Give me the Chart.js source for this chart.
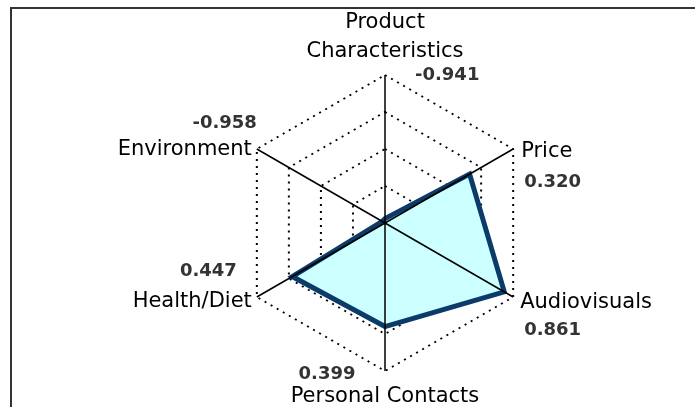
<!DOCTYPE html>
<html>
<head>
<meta charset="utf-8">
<script src="https://cdn.jsdelivr.net/npm/chart.js@4"></script>
<style>
  body { margin: 0; background: #fff; }
  #wrap { width: 695px; height: 407px; position: relative; }
</style>
</head>
<body>
<div id="wrap"><canvas id="graficoRadar"></canvas></div>
<script>
const categorias = [['Product', 'Characteristics'], 'Price', 'Audiovisuals', 'Personal Contacts', 'Health/Diet', 'Environment'];
const valores = [-0.941, 0.320, 0.861, 0.399, 0.447, -0.958];
const escalaMin = -1;
const escalaMax = 1;
const passo = 0.5;

// where each name / value goes relative to its spoke end: [dx, dy, align]
const posNome = [
    [0, -18, 'center'],
    [8, 8, 'left'],
    [7, 11, 'left'],
    [0, 31, 'center'],
    [-5, 10, 'right'],
    [-5, 6, 'right']
];
const posValor = [
    [30, 5, 'left'],
    [11, 38, 'left'],
    [11, 38, 'left'],
    [-58, 8, 'center'],
    [-20, -21, 'right'],
    [0, -21, 'right']
];

const rotulos = {
    id: 'rotulos',
    beforeDraw(chart) {
        const c = chart.ctx;
        c.save();
        c.strokeStyle = '#333';
        c.lineWidth = 2;
        c.beginPath();
        c.moveTo(11, 407);
        c.lineTo(11, 8);
        c.lineTo(695, 8);
        c.stroke();
        c.restore();
    },
    afterDatasetsDraw(chart) {
        // spokes sit on top of the filled area, like in the original
        const c = chart.ctx;
        const r = chart.scales.r;
        c.save();
        c.strokeStyle = '#000';
        c.lineWidth = 1.5;
        c.beginPath();
        categorias.forEach(function (n, i) {
            const p = r.getPointPosition(i, r.drawingArea);
            c.moveTo(r.xCenter, r.yCenter);
            c.lineTo(p.x, p.y);
        });
        c.stroke();
        c.restore();
    },
    afterDraw(chart) {
        const c = chart.ctx;
        const r = chart.scales.r;
        c.save();
        c.textBaseline = 'alphabetic';
        categorias.forEach(function (nome, i) {
            const p = r.getPointPosition(i, r.drawingArea);
            const linhas = Array.isArray(nome) ? nome : [nome];
            c.font = '21px "DejaVu Sans"';
            c.fillStyle = '#000';
            c.textAlign = posNome[i][2];
            linhas.forEach(function (l, k) {
                c.fillText(l, p.x + posNome[i][0], p.y + posNome[i][1] - (linhas.length - 1 - k) * 29);
            });
            c.font = 'bold 18px "DejaVu Sans"';
            c.fillStyle = '#333';
            c.textAlign = posValor[i][2];
            c.fillText(valores[i].toFixed(3), p.x + posValor[i][0], p.y + posValor[i][1]);
        });
        c.restore();
    }
};

const ctx = document.getElementById('graficoRadar').getContext('2d');

const chart = new Chart(ctx, {
    type: 'radar',
    data: {
        labels: categorias,
        datasets: [{
            data: valores,
            backgroundColor: '#ccffff',
            borderColor: '#0b3b68',
            borderWidth: 5,
            pointRadius: 0,
            tension: 0
        }]
    },
    options: {
        responsive: true,
        maintainAspectRatio: false,
        animation: false,
        layout: {
            padding: { left: 237, right: 162, top: 75, bottom: 36 }
        },
        plugins: {
            legend: { display: false },
            tooltip: { enabled: false }
        },
        scales: {
            r: {
                min: escalaMin,
                max: escalaMax,
                ticks: { stepSize: passo, display: false },
                pointLabels: { display: false },
                angleLines: { display: false },
                grid: {
                    color: '#000',
                    lineWidth: 2
                },
                border: { dash: [2, 5] }
            }
        }
    },
    plugins: [rotulos]
});
</script>
</body>
</html>
